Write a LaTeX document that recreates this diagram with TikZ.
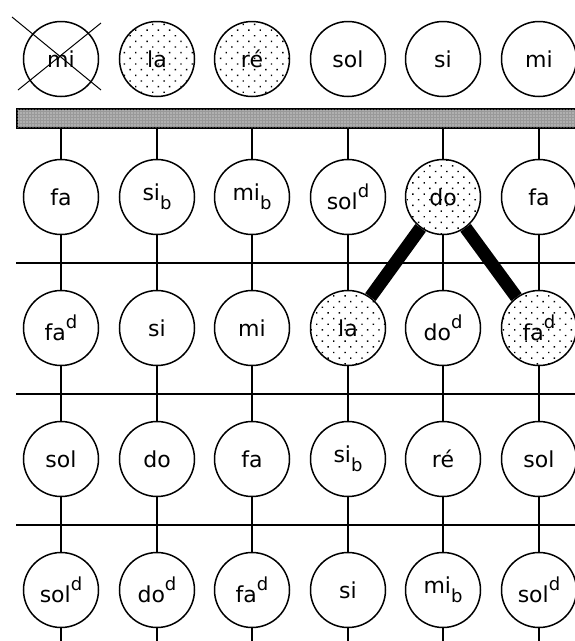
\documentclass[tikz,border=0pt]{standalone}
\usepackage{fontspec}
\setmainfont{DejaVu Sans}
\usetikzlibrary{calc, patterns.meta}

% Alteraciones: d = dièse (arriba), b = bémol (abajo)
\newcommand{\dieze}[1]{#1\raisebox{12pt}{\fontsize{18}{18}\selectfont d}}
\newcommand{\bemol}[1]{#1\raisebox{-9pt}{\fontsize{18}{18}\selectfont b}}

\begin{document}
\begin{tikzpicture}[x=1pt, y=-1pt,
    note/.style={circle, draw, line width=1.5pt, minimum size=75pt, inner sep=0pt,
                 font=\fontsize{22}{22}\selectfont},
    dotnote/.style={note, pattern={Dots[angle=45, distance=8pt, radius=1pt]}},
    barra/.style={draw, line width=1.5pt, fill=black!40,
                  postaction={pattern={Dots[distance=3pt, radius=0.7pt]}, pattern color=white}},
    link/.style={line width=2pt},
    heavy/.style={line width=13pt}]

    % --- Parámetros de la rejilla ---
    \def\xo{61}      % centro de la primera columna
    \def\dx{95.6}    % separación entre columnas
    \def\ytop{59}    % fila superior (fuera de la barra)
    \def\yo{197}     % primera fila bajo la barra
    \def\dy{131}     % separación entre filas

    \useasboundingbox (0,0) rectangle (575,641);

    % 1. Fila superior
    \foreach \lab/\sty [count=\c] in {mi/note, la/dotnote, ré/dotnote, sol/note, si/note, mi/note}
        \node[\sty] (n-0-\c) at ({round(\xo+(\c-1)*\dx)}, \ytop) {\lab};

    % nota tachada
    \draw[line width=1pt] ($(n-0-1.center)+(-49,-42)$) -- ($(n-0-1.center)+(40,31)$);
    \draw[line width=1pt] ($(n-0-1.center)+(40,-36)$) -- ($(n-0-1.center)+(-43,31)$);

    % 2. Barra
    \node[barra, anchor=north west, minimum width=559pt, minimum height=19pt] (bar) at (16,108) {};

    % 3. Filas bajo la barra
    \foreach \lab/\sty [count=\c] in {fa/note, {\bemol{si}}/note, {\bemol{mi}}/note,
                                      {\dieze{sol}}/note, do/dotnote, fa/note}
        \node[\sty] (n-1-\c) at ({round(\xo+(\c-1)*\dx)}, \yo) {\lab};
    \foreach \lab/\sty [count=\c] in {{\dieze{fa}}/note, si/note, mi/note,
                                      la/dotnote, {\dieze{do}}/note, {\dieze{fa}}/dotnote}
        \node[\sty] (n-2-\c) at ({round(\xo+(\c-1)*\dx)}, \yo+\dy) {\lab};
    \foreach \lab/\sty [count=\c] in {sol/note, do/note, fa/note,
                                      {\bemol{si}}/note, ré/note, sol/note}
        \node[\sty] (n-3-\c) at ({round(\xo+(\c-1)*\dx)}, \yo+2*\dy) {\lab};
    \foreach \lab/\sty [count=\c] in {{\dieze{sol}}/note, {\dieze{do}}/note, {\dieze{fa}}/note,
                                      si/note, {\bemol{mi}}/note, {\dieze{sol}}/note}
        \node[\sty] (n-4-\c) at ({round(\xo+(\c-1)*\dx)}, \yo+3*\dy) {\lab};

    % 4. Líneas horizontales
    \foreach \r in {1,2,3} {
        \coordinate (rail-\r-w) at (16, {round(\yo+(\r-0.5)*\dy)});
        \coordinate (rail-\r-e) at (575, {round(\yo+(\r-0.5)*\dy)});
        \draw[link] (rail-\r-w) -- (rail-\r-e);
    }

    % 5. Conexiones verticales
    \foreach \c in {1,...,6} {
        \draw[link] (n-1-\c.north) -- (n-1-\c.north |- bar.south);
        \foreach \r in {1,2,3} {
            \pgfmathtruncatemacro\s{\r+1}
            \draw[link] (n-\r-\c) -- (n-\s-\c);
        }
        \coordinate (fin-\c) at (n-4-\c |- 0,641);
        \draw[link] (n-4-\c) -- (fin-\c);
    }

    % 6. Enlaces gruesos
    \draw[heavy] (n-1-5) -- (n-2-4);
    \draw[heavy] (n-1-5) -- (n-2-6);

\end{tikzpicture}
\end{document}
